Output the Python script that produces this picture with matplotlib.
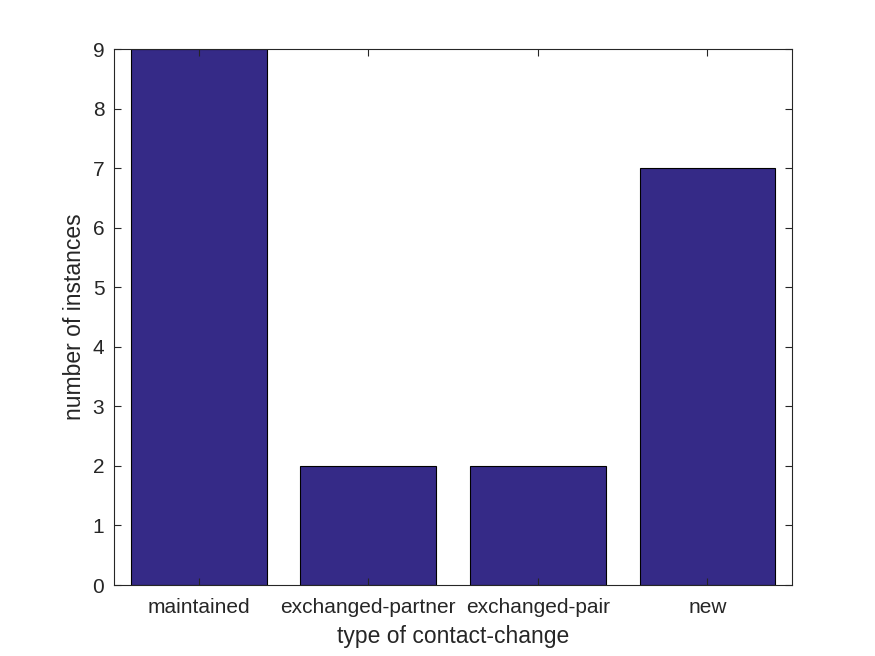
import matplotlib
matplotlib.use("Agg")
import matplotlib.pyplot as plt
import numpy as np

# data
categories = ["maintained", "exchanged-partner", "exchanged-pair", "new"]
counts = [9, 2, 2, 7]

plt.rcParams['font.family'] = ['Liberation Sans', 'DejaVu Sans']

fig = plt.figure(figsize=(8.75, 6.56), dpi=100)
ax = fig.add_axes([0.1303, 0.1082, 0.775, 0.8171])

x = np.arange(1, len(categories) + 1)
ax.bar(x, counts, width=0.8, color="#352a87", edgecolor="black", linewidth=0.8, zorder=1)

ax.set_xlim(0.5, 4.5)
ax.set_ylim(0, 9)
ax.set_xticks(x)
ax.set_xticklabels(categories)
ax.set_yticks(range(0, 10))

axcol = "#262626"
for s in ax.spines.values():
    s.set_color(axcol)
    s.set_linewidth(0.8)
    s.set_zorder(3)
ax.tick_params(direction="in", top=True, right=True, length=5, width=0.8,
               color=axcol, labelcolor=axcol, labelsize=15)
ax.tick_params(axis="y", pad=7)
ax.tick_params(axis="x", pad=9)
for t in ax.xaxis.get_major_ticks() + ax.yaxis.get_major_ticks():
    t.tick1line.set_zorder(3)

ax.set_xlabel("type of contact-change", fontsize=16.5, color=axcol, labelpad=6)
ax.set_ylabel("number of instances", fontsize=16.5, color=axcol, labelpad=5)
ax.set_axisbelow(False)

fig.savefig("out.png", dpi=100)
